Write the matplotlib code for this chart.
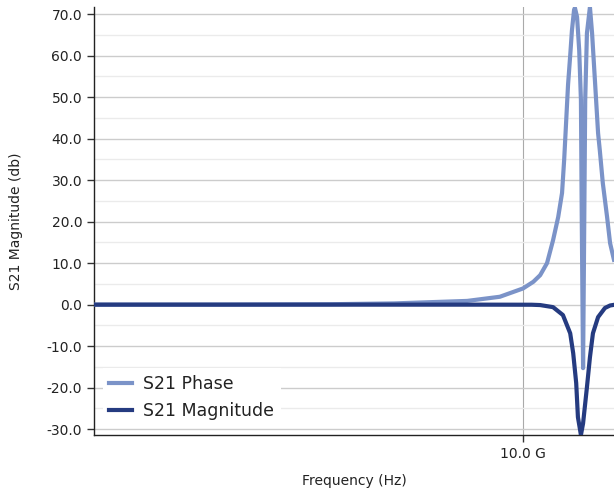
import matplotlib
matplotlib.use("Agg")
import matplotlib.pyplot as plt
from matplotlib.ticker import FixedLocator, FuncFormatter, MultipleLocator

# Frequency in GHz
phase_freq = [0.0, 3.0, 5.5, 7.0, 8.7, 9.46, 10.0, 10.24, 10.40, 10.56, 10.70, 10.82, 10.91,
              10.96, 11.01, 11.05, 11.10, 11.14, 11.19, 11.21, 11.26, 11.31, 11.35, 11.37,
              11.40, 11.42, 11.45, 11.49, 11.56, 11.61, 11.68, 11.75, 11.79, 11.86, 11.96,
              12.03, 12.12]
phase_vals = [0.0, 0.02, 0.1, 0.3, 0.9, 1.9, 3.9, 5.5, 7.1, 10.0, 15.5, 21.1, 26.9,
              35.0, 45.0, 53.0, 60.0, 66.0, 71.0, 71.5, 69.3, 61.3, 49.3, 20.0,
              -15.3, 10.0, 49.3, 65.4, 71.7, 65.4, 53.4, 41.3, 37.2, 29.3, 21.1,
              14.8, 10.8]

mag_freq = [0.0, 5.0, 9.0, 10.2, 10.40, 10.70, 10.93, 11.10, 11.17, 11.24, 11.28, 11.35,
            11.40, 11.49, 11.56, 11.63, 11.75, 11.91, 12.03, 12.12]
mag_vals = [0.0, 0.0, 0.0, -0.02, -0.1, -0.6, -2.5, -6.9, -11.7, -18.9, -27.1, -31.4,
            -28.6, -19.9, -12.7, -6.9, -3.0, -0.8, -0.2, -0.05]

y_ticks = [-30, -20, -10, 0, 10, 20, 30, 40, 50, 60, 70]
x_ticks = [10.0]
x_tick_labels = ["10.0 G"]

fig = plt.figure(figsize=(6.14, 4.95), dpi=100)
ax = fig.add_axes([94/614, 1 - 435/495, 1 - 94/614, (435 - 7)/495])

ax.plot(phase_freq, phase_vals, color="#7b93c8", lw=3.0, label="S21 Phase", zorder=3)
ax.plot(mag_freq, mag_vals, color="#253b80", lw=3.0, label="S21 Magnitude", zorder=4)

ax.set_xlim(0, 12.121)
ax.set_ylim(-31.4, 71.7)

ax.yaxis.set_major_locator(FixedLocator(y_ticks))
ax.yaxis.set_minor_locator(MultipleLocator(5))
ax.yaxis.set_major_formatter(FuncFormatter(lambda v, p: f"{v:.1f}"))
ax.xaxis.set_major_locator(FixedLocator(x_ticks))
ax.set_xticklabels(x_tick_labels)

ax.grid(axis="y", which="major", color="#cccccc", lw=1.0, zorder=0)
ax.grid(axis="y", which="minor", color="#ebebeb", lw=1.0, zorder=0)
ax.grid(axis="x", which="major", color="#aaaaaa", lw=0.8, zorder=0)
ax.set_axisbelow(True)

ax.tick_params(axis="both", which="major", length=5, width=1, labelsize=10, colors="#333333",
               labelcolor="#222222", direction="out")
ax.tick_params(axis="y", which="minor", length=0)
for s in ["top", "right"]:
    ax.spines[s].set_visible(False)
for s in ["left", "bottom"]:
    ax.spines[s].set_color("#222222")
    ax.spines[s].set_linewidth(1.0)

ax.set_ylabel("S21 Magnitude (db)", fontsize=10, color="#222222")
ax.yaxis.set_label_coords(-(94 - 16) / 520, 0.5)
ax.yaxis.label.set_va("center")
ax.set_xlabel("Frequency (Hz)", fontsize=10, color="#222222")
ax.xaxis.set_label_coords(0.5, -(481 - 435) / 428)
ax.xaxis.label.set_va("center")

leg = ax.legend(loc="lower left", bbox_to_anchor=(0.0, 0.0), fontsize=12.5,
                frameon=True, facecolor="white", edgecolor="none", framealpha=1.0,
                handlelength=1.3, handletextpad=0.65, borderpad=0.38, labelspacing=0.5,
                fancybox=False)
leg.set_zorder(5)
for t in leg.get_texts():
    t.set_color("#222222")

fig.savefig("out.png", dpi=100)
